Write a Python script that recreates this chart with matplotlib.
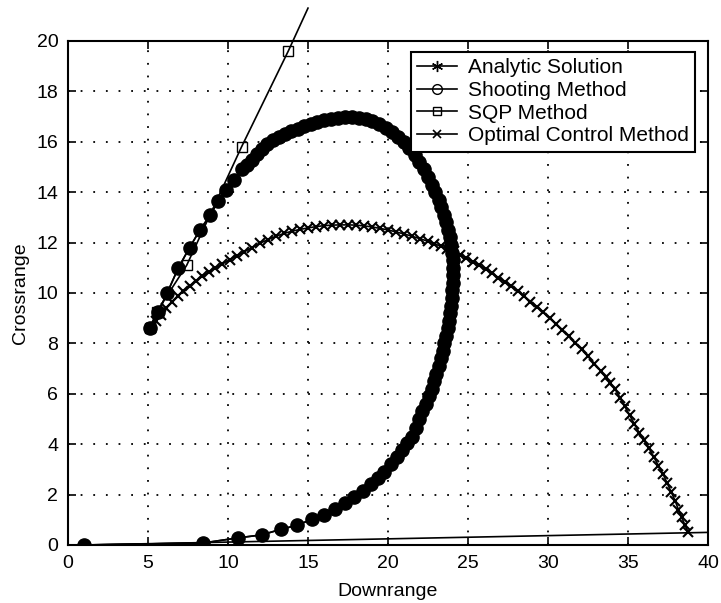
import matplotlib
matplotlib.use("Agg")
import matplotlib.pyplot as plt
from matplotlib.lines import Line2D

plt.rcParams['font.family'] = ['Liberation Sans', 'DejaVu Sans']

# ---- data ----
shoot_x = [1.0, 8.45, 10.6, 12.1, 13.3, 14.3, 15.25, 16.0, 16.7, 17.3, 17.9, 18.45, 18.95,
           19.4, 19.75, 20.2, 20.55, 20.9, 21.2, 21.5, 21.75, 21.95,
           22.15, 22.35, 22.55, 22.72, 22.88, 23.03, 23.17, 23.3, 23.42, 23.53, 23.63, 23.72,
           23.8, 23.87, 23.93, 23.98, 24.02, 24.05, 24.06, 24.06, 24.04, 24.0, 23.94, 23.86,
           23.76, 23.64, 23.5, 23.34, 23.16, 22.96, 22.74, 22.5, 22.24, 21.96, 21.66, 21.34,
           21.0, 20.64, 20.26, 19.86, 19.45, 19.03, 18.6, 18.17, 17.74, 17.3, 16.87, 16.44,
           16.01, 15.59, 15.17, 14.76, 14.36, 13.96, 13.57, 13.19, 12.82, 12.46, 12.12, 11.8,
           11.5, 11.2, 10.9, 10.4, 9.9, 9.4, 8.9, 8.25, 7.6, 6.9, 6.2, 5.65, 5.1]
shoot_y = [0.0, 0.08, 0.28, 0.40, 0.62, 0.78, 1.02, 1.19, 1.43, 1.67, 1.9, 2.14, 2.42,
           2.66, 2.9, 3.2, 3.5, 3.77, 4.05, 4.3, 4.64, 5.0,
           5.3, 5.6, 5.9, 6.2, 6.5, 6.8, 7.1, 7.4, 7.7, 8.0, 8.3, 8.6,
           8.9, 9.2, 9.5, 9.8, 10.1, 10.4, 10.7, 11.0, 11.3, 11.6, 11.9, 12.2,
           12.5, 12.8, 13.1, 13.4, 13.7, 14.0, 14.3, 14.6, 14.9, 15.2, 15.48, 15.74,
           15.98, 16.2, 16.4, 16.56, 16.7, 16.81, 16.89, 16.94, 16.97, 16.97, 16.95, 16.9,
           16.85, 16.78, 16.7, 16.62, 16.52, 16.41, 16.29, 16.17, 16.05, 15.9, 15.72, 15.5,
           15.27, 15.08, 14.9, 14.5, 14.1, 13.65, 13.1, 12.5, 11.8, 11.0, 10.0, 9.25, 8.6]

# analytic solution coincides with the shooting method
analytic_x = shoot_x
analytic_y = shoot_y

sqp_x = [5.1, 5.55, 7.42, 10.85, 13.77, 15.0]
sqp_y = [8.6, 9.26, 11.1, 15.8, 19.6, 21.3]

guess_x = [1.0, 40.0]
guess_y = [0.0, 0.5]

oc_x = [5.2, 5.5, 5.8, 6.15, 6.5, 6.85, 7.2, 7.6, 8.0, 8.4, 8.8, 9.2, 9.65, 10.1, 10.55, 11.0,
        11.5, 12.0,
        12.5, 13.0, 13.5, 14.0, 14.5, 15.0, 15.5, 16.0, 16.5, 17.0, 17.5, 18.0, 18.5, 19.0,
        19.5, 20.0, 20.5, 21.0, 21.5, 22.0, 22.5,
        22.9, 23.3, 23.7, 24.1, 24.5, 24.9, 25.3, 25.7, 26.1, 26.5, 26.9, 27.3, 27.7, 28.1,
        28.5, 28.9, 29.3, 29.7, 30.1, 30.5, 30.9, 31.3, 31.7, 32.1, 32.5, 32.9, 33.3, 33.6,
        33.9, 34.2,
        34.5, 34.8, 35.1, 35.4, 35.7, 36.0, 36.3, 36.6, 36.9, 37.2, 37.45, 37.7, 37.95, 38.15,
        38.35, 38.55, 38.75]
oc_y = [8.6, 8.88, 9.13, 9.4, 9.65, 9.87, 10.08, 10.28, 10.48, 10.66, 10.83, 10.98, 11.15,
        11.32, 11.48, 11.63, 11.8, 11.97,
        12.12, 12.25, 12.36, 12.45, 12.52, 12.58, 12.63, 12.67, 12.69, 12.7, 12.7, 12.69,
        12.66, 12.62, 12.56, 12.5, 12.42, 12.34, 12.25, 12.15, 12.05,
        11.95, 11.85, 11.75, 11.65, 11.52, 11.38, 11.24, 11.1, 10.94, 10.78, 10.61, 10.44,
        10.26, 10.07, 9.87, 9.66, 9.45, 9.23, 9.0, 8.77, 8.53, 8.28, 8.02, 7.76, 7.48, 7.2,
        6.9, 6.66, 6.42, 6.17,
        5.85, 5.5, 5.15, 4.8, 4.45, 4.15, 3.85, 3.5, 3.15, 2.8, 2.45, 2.1, 1.75, 1.4, 1.1,
        0.8, 0.52]

labels = ['Analytic Solution', 'Shooting Method', 'SQP Method', 'Optimal Control Method']
xticks = [0, 5, 10, 15, 20, 25, 30, 35, 40]
yticks = [0, 2, 4, 6, 8, 10, 12, 14, 16, 18, 20]

# ---- figure ----
fig = plt.figure(figsize=(7.21, 6.03), dpi=100)
ax = fig.add_axes([0.0943, 0.0962, 0.8877, 0.836])

asterisk = (6, 2, 0)
lw = 1.2

ax.plot(guess_x, guess_y, color='black', lw=lw)
ax.plot(analytic_x, analytic_y, color='black', lw=lw, marker=asterisk, ms=8, mew=1.0)
ax.plot(shoot_x, shoot_y, color='black', lw=lw, marker='o', ms=9.5, mfc='black', mec='black')
ax.plot(sqp_x, sqp_y, color='black', lw=lw, marker='s', ms=7, mfc='none', mec='black',
        mew=1.0, markevery=[0, 1, 2, 3, 4], clip_on=False)
ax.plot(oc_x, oc_y, color='black', lw=lw, marker='x', ms=6.5, mew=1.5)

ax.set_xlim(0, 40)
ax.set_ylim(0, 20)
ax.set_xticks(xticks)
ax.set_yticks(yticks)
ax.grid(True, color='black', linestyle=(0, (1, 6)), linewidth=1.3)
ax.tick_params(direction='in', top=True, right=True, length=6, width=1.2,
               labelsize=14, pad=7)
for s in ax.spines.values():
    s.set_linewidth(1.5)
ax.set_xlabel('Downrange', fontsize=14, labelpad=8)
ax.set_ylabel('Crossrange', fontsize=14, labelpad=5)

handles = [
    Line2D([], [], color='black', lw=lw, marker=asterisk, ms=8, mew=1.0),
    Line2D([], [], color='black', lw=lw, marker='o', ms=7, mfc='none', mew=1.0),
    Line2D([], [], color='black', lw=lw, marker='s', ms=6, mfc='none', mew=1.0),
    Line2D([], [], color='black', lw=lw, marker='x', ms=6, mew=1.2),
]
leg = ax.legend(handles, labels, loc='upper right', fontsize=15, frameon=True,
                fancybox=False, edgecolor='black', framealpha=1, handlelength=1.9,
                handletextpad=0.55, labelspacing=0.18, borderpad=0.3,
                bbox_to_anchor=(0.98, 0.978), borderaxespad=0)
leg.get_frame().set_linewidth(1.5)

fig.savefig('out.png', dpi=100)
